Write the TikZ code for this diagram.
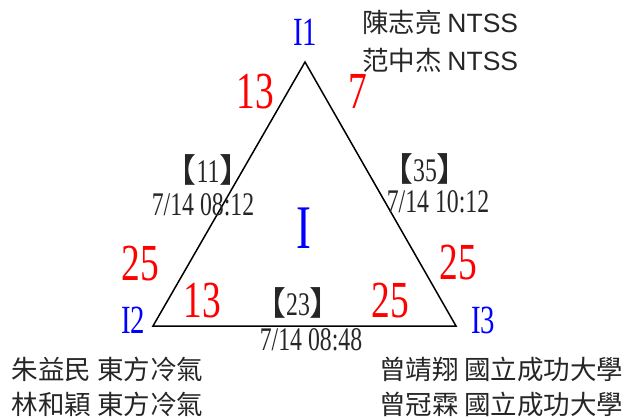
\documentclass[tikz,border=0pt]{standalone}
\usepackage{fontspec}
\newfontfamily\cjk{Noto Sans CJK TC}
\newfontfamily\ming[FakeStretch=0.72]{Liberation Serif}
\newfontfamily\arial{Liberation Sans}
\newcommand{\tagno}[1]{{\cjk 【}{\ming #1}{\cjk 】}}
\begin{document}
\begin{tikzpicture}[
        x=1pt, y=-1pt,
        every node/.style={inner sep=0pt, outer sep=0pt, anchor=base},
        side/.style={line width=1.5pt, line join=miter},
        score/.style={text=red, font=\ming\fontsize{52}{56}\selectfont},
        corner/.style={text=blue, font=\ming\fontsize{40}{44}\selectfont},
        region/.style={text=blue, font=\ming\fontsize{62}{66}\selectfont},
        stamp/.style={text=black!85, font=\ming\fontsize{33}{36}\selectfont},
        person/.style={text=black!85, anchor=base west, font=\cjk\fontsize{26.5}{30}\selectfont},
    ]
    \useasboundingbox (0,0) rectangle (629,418);
    \coordinate (v1) at (305,62);
    \coordinate (v2) at (153,326);
    \coordinate (v3) at (456,326);
    \draw[side] (v1) -- (v2) -- (v3) -- cycle;

    \node[corner](I1) at (305,45){I1};
    \node[corner](I2) at (133,333){I2};
    \node[corner](I3) at (483,333){I3};
    \node[region](I) at (304,248){I};

    \node[score](s12a) at (255,108){13};
    \node[score](s13a) at (358,108){7};
    \node[score](s21a) at (140,280){25};
    \node[score](s31a) at (458,279){25};
    \node[score](s21b) at (202,317){13};
    \node[score](s31b) at (390,317){25};

    \node[stamp](g11) at (208,182){\tagno{11}};
    \node[stamp](t11) at (203,215){7/14 08:12};
    \node[stamp](g35) at (425,181){\tagno{35}};
    \node[stamp](t35) at (438,212){7/14 10:12};
    \node[stamp](g23) at (298,315){\tagno{23}};
    \node[stamp](t23) at (311,350){7/14 08:48};

    \node[person](p1a) at (362,32){陳志亮 {\arial NTSS}};
    \node[person](p1b) at (362,70){范中杰 {\arial NTSS}};
    \node[person](p2a) at (12,379){朱益民 東方冷氣};
    \node[person](p2b) at (12,414){林和穎 東方冷氣};
    \node[person](p3a) at (379,379){曾靖翔 國立成功大學};
    \node[person](p3b) at (379,414){曾冠霖 國立成功大學};
\end{tikzpicture}
\end{document}
